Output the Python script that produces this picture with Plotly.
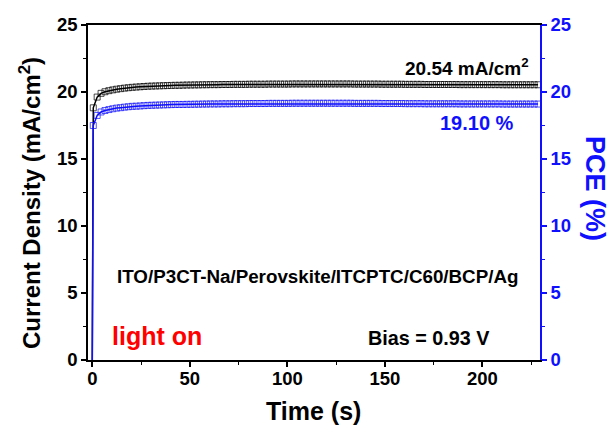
import plotly.graph_objects as go

# Steady-state output measured at fixed bias after the light is switched on
time_s = [
    0.0,
    0.5, 2.5, 4.5, 6.5, 8.5, 10.5, 12.5, 14.5, 16.5, 18.5,
    20.5, 22.5, 24.5, 26.5, 28.5, 30.5, 32.5, 34.5, 36.5, 38.5,
    40.5, 42.5, 44.5, 46.5, 48.5, 50.5, 52.5, 54.5, 56.5, 58.5,
    60.5, 62.5, 64.5, 66.5, 68.5, 70.5, 72.5, 74.5, 76.5, 78.5,
    80.5, 82.5, 84.5, 86.5, 88.5, 90.5, 92.5, 94.5, 96.5, 98.5,
    100.5, 102.5, 104.5, 106.5, 108.5, 110.5, 112.5, 114.5, 116.5, 118.5,
    120.5, 122.5, 124.5, 126.5, 128.5, 130.5, 132.5, 134.5, 136.5, 138.5,
    140.5, 142.5, 144.5, 146.5, 148.5, 150.5, 152.5, 154.5, 156.5, 158.5,
    160.5, 162.5, 164.5, 166.5, 168.5, 170.5, 172.5, 174.5, 176.5, 178.5,
    180.5, 182.5, 184.5, 186.5, 188.5, 190.5, 192.5, 194.5, 196.5, 198.5,
    200.5, 202.5, 204.5, 206.5, 208.5, 210.5, 212.5, 214.5, 216.5, 218.5,
    220.5, 222.5, 224.5, 226.5, 228.5,
]

current_density = [
    0.0,
    18.82, 19.62, 19.90, 20.02, 20.10, 20.16, 20.21, 20.25, 20.29, 20.32,
    20.35, 20.37, 20.39, 20.41, 20.43, 20.44, 20.45, 20.46, 20.47, 20.48,
    20.49, 20.50, 20.50, 20.51, 20.52, 20.52, 20.53, 20.53, 20.54, 20.54,
    20.55, 20.55, 20.55, 20.56, 20.56, 20.56, 20.57, 20.57, 20.57, 20.57,
    20.58, 20.58, 20.58, 20.58, 20.58, 20.59, 20.59, 20.59, 20.59, 20.59,
    20.59, 20.60, 20.60, 20.60, 20.60, 20.60, 20.60, 20.60, 20.60, 20.60,
    20.60, 20.60, 20.60, 20.60, 20.60, 20.60, 20.60, 20.59, 20.59, 20.59,
    20.59, 20.59, 20.59, 20.59, 20.58, 20.58, 20.58, 20.58, 20.58, 20.58,
    20.57, 20.57, 20.57, 20.57, 20.57, 20.56, 20.56, 20.56, 20.56, 20.56,
    20.56, 20.56, 20.56, 20.56, 20.55, 20.55, 20.55, 20.55, 20.55, 20.55,
    20.55, 20.55, 20.55, 20.55, 20.55, 20.54, 20.54, 20.54, 20.54, 20.54,
    20.54, 20.54, 20.54, 20.54, 20.54,
]

pce = [
    0.0,
    17.50, 18.25, 18.51, 18.62, 18.69, 18.75, 18.80, 18.83, 18.87, 18.90,
    18.93, 18.94, 18.96, 18.98, 19.00, 19.01, 19.02, 19.03, 19.04, 19.05,
    19.06, 19.07, 19.07, 19.07, 19.08, 19.08, 19.09, 19.09, 19.10, 19.10,
    19.11, 19.11, 19.11, 19.12, 19.12, 19.12, 19.13, 19.13, 19.13, 19.13,
    19.14, 19.14, 19.14, 19.14, 19.14, 19.15, 19.15, 19.15, 19.15, 19.15,
    19.15, 19.16, 19.16, 19.16, 19.16, 19.16, 19.16, 19.16, 19.16, 19.16,
    19.16, 19.16, 19.16, 19.16, 19.16, 19.16, 19.16, 19.15, 19.15, 19.15,
    19.15, 19.15, 19.15, 19.15, 19.14, 19.14, 19.14, 19.14, 19.14, 19.14,
    19.13, 19.13, 19.13, 19.13, 19.13, 19.12, 19.12, 19.12, 19.12, 19.12,
    19.12, 19.12, 19.12, 19.12, 19.11, 19.11, 19.11, 19.11, 19.11, 19.11,
    19.11, 19.11, 19.11, 19.11, 19.11, 19.10, 19.10, 19.10, 19.10, 19.10,
    19.10, 19.10, 19.10, 19.10, 19.10,
]

x_ticks = [0, 50, 100, 150, 200]
y_ticks = [0, 5, 10, 15, 20, 25]

device = "ITO/P3CT-Na/Perovskite/ITCPTC/C60/BCP/Ag"
bias_v = 0.93

FONT = "Liberation Sans, Arial, sans-serif"
BLUE = "#1010ff"

W, H = 609, 432
ML, MR, MT, MB = 88, 69, 25, 72
PW, PH = W - ML - MR, H - MT - MB

# no marker on the dark point at t = 0, so only the vertical rise is drawn
marker_sizes = [0] + [6] * (len(time_s) - 1)

fig = go.Figure()
fig.add_trace(go.Scatter(
    x=time_s, y=current_density, mode="lines+markers",
    line=dict(color="black", width=1.5),
    marker=dict(symbol="square-open", size=marker_sizes, color="black",
                line=dict(width=1)),
    showlegend=False,
))
fig.add_trace(go.Scatter(
    x=time_s, y=pce, mode="lines+markers", yaxis="y2",
    line=dict(color=BLUE, width=1.5),
    marker=dict(symbol="square-open", size=marker_sizes, color=BLUE,
                line=dict(width=1)),
    showlegend=False,
))

tick_font = dict(family=FONT, size=18.5, color="black", weight="bold")

fig.update_layout(
    width=W, height=H,
    margin=dict(l=ML, r=MR, t=MT, b=MB),
    paper_bgcolor="white", plot_bgcolor="white",
    font=dict(family=FONT),
    xaxis=dict(
        range=[-2.2, 229.5], tickvals=x_ticks, showgrid=False, zeroline=False,
        showline=True, linecolor="black", linewidth=1.5, mirror=True,
        ticks="outside", ticklen=5, tickwidth=1.5, tickcolor="black",
        minor=dict(ticks="outside", ticklen=3, tickwidth=1, dtick=25,
                   tick0=0, tickcolor="black"),
        tickfont=tick_font, ticklabelstandoff=-4,
    ),
    yaxis=dict(
        range=[0, 25], tickvals=y_ticks, showgrid=False, zeroline=False,
        showline=True, linecolor="black", linewidth=1.5,
        ticks="outside", ticklen=5, tickwidth=1.5, tickcolor="black",
        minor=dict(ticks="outside", ticklen=3, tickwidth=1, dtick=2.5,
                   tick0=0, tickcolor="black"),
        tickfont=tick_font,
    ),
    yaxis2=dict(
        range=[0, 25], tickvals=y_ticks, overlaying="y", side="right",
        showgrid=False, zeroline=False,
        showline=True, linecolor=BLUE, linewidth=1.5,
        ticks="outside", ticklen=5, tickwidth=1.5, tickcolor=BLUE,
        minor=dict(ticks="outside", ticklen=3, tickwidth=1, dtick=2.5,
                   tick0=0, tickcolor=BLUE),
        tickfont=dict(family=FONT, size=18.5, color=BLUE, weight="bold"),
    ),
)

# text placed by page pixel position, converted to plot-area fractions
annotations = [
    dict(text="Time (s)", x=313, y=411, font=dict(size=25, color="black")),
    dict(text="Current Density (mA/cm<sup>2</sup>)", x=30, y=203, textangle=-90,
         font=dict(size=24, color="black")),
    dict(text="PCE (%)", x=595, y=188, textangle=90,
         font=dict(size=27, color=BLUE)),
    dict(text=f"{current_density[-1]:.2f} mA/cm<sup>2</sup>", x=467, y=67,
         font=dict(size=19, color="black")),
    dict(text=f"{pce[-1]:.2f} %", x=477, y=123,
         font=dict(size=20, color=BLUE)),
    dict(text=device, x=317, y=276, font=dict(size=18.8, color="black")),
    dict(text="light on", x=157, y=336, font=dict(size=25, color="#ff0000")),
    dict(text=f"Bias = {bias_v:.2f} V", x=429, y=338,
         font=dict(size=19.8, color="black")),
]
for a in annotations:
    a["font"].update(family=FONT, weight="bold")
    fig.add_annotation(xref="paper", yref="paper", showarrow=False,
                       x=(a["x"] - ML) / PW, y=(H - MB - a["y"]) / PH,
                       xanchor="center", yanchor="middle",
                       text=a["text"], textangle=a.get("textangle", 0),
                       font=a["font"])

fig.write_html("out.html")
